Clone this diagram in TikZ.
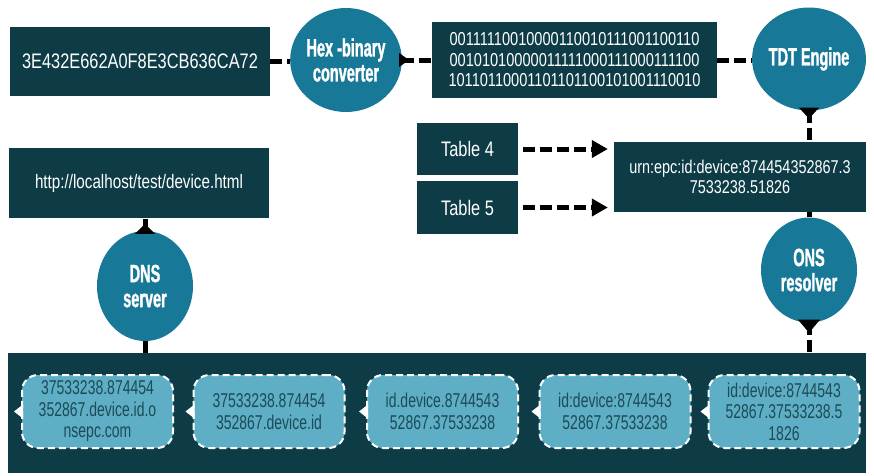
\documentclass[tikz,border=0pt]{standalone}
\usepackage{fontspec}
\setmainfont{Liberation Sans}
\newfontfamily\boxfont[FakeStretch=0.78]{Liberation Sans}
\newfontfamily\nodefont[FakeStretch=0.70]{Liberation Sans}
\newfontfamily\circfont[FakeStretch=0.58,BoldFeatures={FakeBold=1.2}]{Liberation Sans}
\usetikzlibrary{shapes.geometric,arrows.meta,calc}
\definecolor{darkteal}{HTML}{0D3C46}
\definecolor{circteal}{HTML}{187898}
\definecolor{lightteal}{HTML}{5EAEC6}
\definecolor{nodetext}{HTML}{1D4B58}
\tikzset{
  darkbox/.style={rectangle, fill=darkteal, draw=none, text=white, font=\boxfont, align=center, inner sep=0pt},
  circ/.style={ellipse, fill=circteal, draw=none, text=white, font=\circfont\bfseries\fontsize{25}{25}\selectfont, align=center, inner sep=0pt},
  conn/.style={line width=5pt, dash pattern=on 12pt off 5pt, black},
  tabarrow/.style={conn, -{Triangle[length=16pt,width=17pt]}},
  bnode/.style={rectangle, fill=lightteal, draw=white, line width=2pt, dash pattern=on 7pt off 4pt, rounded corners=16pt, minimum width=151pt, minimum height=73pt, text=nodetext, font=\nodefont\fontsize{20}{21.5}\selectfont, align=center, inner sep=0pt},
}
\begin{document}
\begin{tikzpicture}[x=1pt,y=-1pt]
\useasboundingbox (0,0) rectangle (874,475);
% top row
\node[darkbox, minimum width=260pt, minimum height=69pt, font=\boxfont\fontsize{21}{24}\selectfont] (hex) at (140,61) {3E432E662A0F8E3CB636CA72};
\node[circ, minimum width=95pt, minimum height=104pt] (hb) at (346,60) {Hex -binary\\converter};
\node[darkbox, minimum width=285pt, minimum height=76pt, font=\boxfont\fontsize{18.7}{20.5}\selectfont] (bin) at (574.5,60) {00111110010000110010111001100110\\00101010000011111000111000111100\\10110110001101101100101001110010};
\node[circ, minimum width=97pt, minimum height=103pt] (tdt) at (809,59) {TDT Engine};
% middle
\node[darkbox, minimum width=101pt, minimum height=52pt, font=\boxfont\fontsize{21}{24}\selectfont] (t4) at (467.5,149) {Table 4};
\node[darkbox, minimum width=101pt, minimum height=53pt, font=\boxfont\fontsize{21}{24}\selectfont] (t5) at (467.5,207.5) {Table 5};
\node[darkbox, minimum width=252pt, minimum height=70pt, font=\boxfont\fontsize{18.5}{20}\selectfont] (urn) at (740,177) {urn:epc:id:device:874454352867.3\\7533238.51826};
\node[circ, minimum width=96pt, minimum height=105pt] (ons) at (809,270) {ONS\\resolver};
\node[darkbox, minimum width=260pt, minimum height=70pt, font=\boxfont\fontsize{19.5}{22}\selectfont] (url) at (139,183) {http://localhost/test/device.html};
\node[circ, minimum width=96pt, minimum height=110pt] (dns) at (145,286) {DNS\\server};
% bottom
\node[darkbox, minimum width=858pt, minimum height=120pt] (big) at (437,413) {};
\node[bnode] (n1) at (97.5,411.5) {37533238.874454\\352867.device.id.o\\nsepc.com};
\node[bnode] (n2) at (269,411.5) {37533238.874454\\352867.device.id};
\node[bnode] (n3) at (442.5,411.5) {id.device.8744543\\52867.37533238};
\node[bnode] (n4) at (615,411.5) {id:device:8744543\\52867.37533238};
\node[bnode] (n5) at (784,411.5) {id:device:8744543\\52867.37533238.5\\1826};
% connectors
\draw[conn] (hex.east) -- (hex.east -| hb.west);
\draw[conn] (hb.east) -- (hb.east -| bin.west);
\draw[conn] (bin.east) -- (bin.east -| tdt.west);
\draw[conn] (tdt.south) -- (tdt.south |- urn.north);
\draw[conn] (urn.south -| ons.north) -- (ons.north);
\draw[conn] (ons.south) -- (ons.south |- big.north);
\draw[conn] (dns.south) -- (dns.south |- big.north);
\draw[conn] (dns.north) -- (dns.north |- url.south);
\draw[tabarrow, shorten <=5pt, shorten >=6pt] (t4.east) -- (t4.east -| urn.west);
\draw[tabarrow, shorten <=5pt, shorten >=6pt] (t5.east) -- (t5.east -| urn.west);
% pointer triangles on circles
\fill[black] ($(hb.east)+(-3,-7)$) -- ($(hb.east)+(7,0)$) -- ($(hb.east)+(-3,7)$) -- cycle;
\fill[black] ($(tdt.south)+(-10,-3)$) -- ($(tdt.south)+(0,8)$) -- ($(tdt.south)+(10,-3)$) -- cycle;
\fill[black] ($(ons.south)+(-11,-3)$) -- ($(ons.south)+(0,10)$) -- ($(ons.south)+(11,-3)$) -- cycle;
\fill[black] ($(dns.north)+(-10,3)$) -- ($(dns.north)+(0,-7)$) -- ($(dns.north)+(10,3)$) -- cycle;
% white pointer triangles in the bottom chain
\foreach \n in {n1,n2,n3,n4,n5}{
  \fill[white] ($(\n.west)+(2,-7)$) -- ($(\n.west)+(-7,0)$) -- ($(\n.west)+(2,7)$) -- cycle;
}
\end{tikzpicture}
\end{document}
